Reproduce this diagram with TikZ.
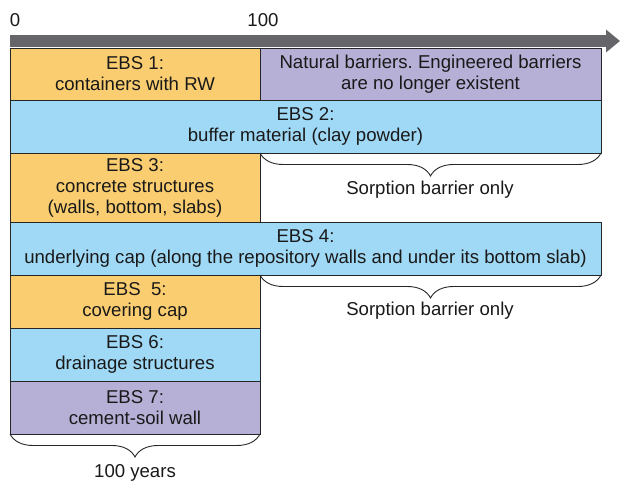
\documentclass[tikz,border=0pt]{standalone}
\usepackage{fontspec}
\setmainfont{Liberation Sans}
\usetikzlibrary{decorations.pathreplacing,arrows.meta}
\frenchspacing

\definecolor{ebsorange}{RGB}{250,206,112}
\definecolor{ebsblue}{RGB}{160,217,245}
\definecolor{ebspurple}{RGB}{182,176,214}
\definecolor{axisgray}{RGB}{102,101,106}

\tikzset{
  barrier/.style={draw=black!85,line width=0.9pt,anchor=north west,
    inner sep=0pt,outer sep=0pt,align=center,text=black!90,
    font=\fontsize{18.6}{21}\selectfont},
  shortbar/.style={barrier,minimum width=250pt},
  longbar/.style={barrier,minimum width=591pt},
  bracket/.style={decorate,decoration={brace,mirror,amplitude=23pt,aspect=0.5},
    draw=black!85,line width=0.9pt},
  caption/.style={font=\fontsize{18.6}{21}\selectfont,text=black!90,inner sep=0pt}
}

\begin{document}
\begin{tikzpicture}[x=1pt,y=-1pt]
  \useasboundingbox (0,0) rectangle (621,481);

  % time axis
  \draw[axisgray,line width=12pt,-{Triangle[length=14pt,width=22pt]}]
    (10,41) -- (620,41);
  \node[caption] (t0) at (15,20) {0};
  \node[caption] (t100) at (263,20) {100};

  % barriers
  \node[shortbar,fill=ebsorange,minimum height=52pt] (ebs1) at (10,48)
    {EBS 1:\\containers with RW};
  \node[barrier,fill=ebspurple,minimum width=341pt,minimum height=52pt]
    (natural) at (ebs1.north east)
    {Natural barriers. Engineered barriers\\are no longer existent};
  \node[longbar,fill=ebsblue,minimum height=53pt] (ebs2) at (ebs1.south west)
    {EBS 2:\\buffer material (clay powder)};
  \node[shortbar,fill=ebsorange,minimum height=69pt] (ebs3) at (ebs2.south west)
    {EBS 3:\\concrete structures\\(walls, bottom, slabs)};
  \node[longbar,fill=ebsblue,minimum height=53pt] (ebs4) at (ebs3.south west)
    {EBS 4:\\underlying cap (along the repository walls and under its bottom slab)};
  \node[shortbar,fill=ebsorange,minimum height=53pt] (ebs5) at (ebs4.south west)
    {EBS\ \ 5:\\covering cap};
  \node[shortbar,fill=ebsblue,minimum height=53pt] (ebs6) at (ebs5.south west)
    {EBS 6:\\drainage structures};
  \node[shortbar,fill=ebspurple,minimum height=53pt] (ebs7) at (ebs6.south west)
    {EBS 7:\\cement-soil wall};

  % braces
  \coordinate (b2) at (ebs2.south west -| ebs1.south east);
  \coordinate (b4) at (ebs4.south west -| ebs3.south east);
  \draw[bracket] (b2) -- (ebs2.south east);
  \draw[bracket] (b4) -- (ebs4.south east);
  \draw[bracket] (ebs7.south west) -- (ebs7.south east);

  \node[caption] (sorp2) at (430,190) {Sorption barrier only};
  \node[caption] (sorp4) at (430,311) {Sorption barrier only};
  \node[caption] (years) at (135,473) {100 years};
\end{tikzpicture}
\end{document}
